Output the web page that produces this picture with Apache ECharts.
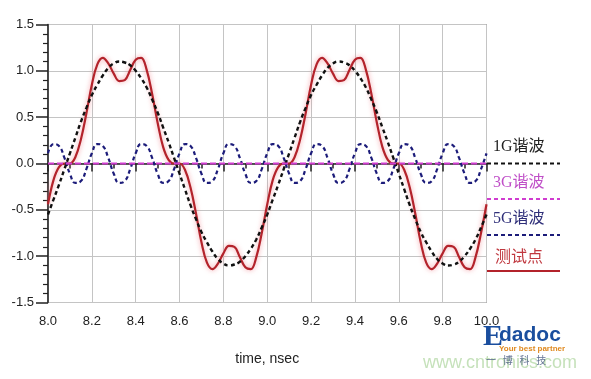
<!DOCTYPE html>
<html><head><meta charset="utf-8">
<script src="https://cdn.jsdelivr.net/npm/echarts@6/dist/echarts.min.js"></script>
<style>html,body{margin:0;padding:0;background:#fff}#c{width:591px;height:379px}</style>
</head><body><div id="c"></div>
<script>
const times = [8.000,8.025,8.050,8.075,8.100,8.125,8.150,8.175,8.200,8.225,8.250,8.275,8.300,8.325,8.350,8.375,8.400,8.425,8.450,8.475,
8.500,8.525,8.550,8.575,8.600,8.625,8.650,8.675,8.700,8.725,8.750,8.775,8.800,8.825,8.850,8.875,8.900,8.925,8.950,8.975,
9.000,9.025,9.050,9.075,9.100,9.125,9.150,9.175,9.200,9.225,9.250,9.275,9.300,9.325,9.350,9.375,9.400,9.425,9.450,9.475,
9.500,9.525,9.550,9.575,9.600,9.625,9.650,9.675,9.700,9.725,9.750,9.775,9.800,9.825,9.850,9.875,9.900,9.925,9.950,9.975,10.000];

const harm1G = [-0.55,-0.39,-0.23,-0.06,0.11,0.28,0.45,0.60,0.74,0.85,0.95,1.03,1.08,1.10,1.09,1.06,1.00,0.92,0.82,0.69,
0.55,0.39,0.23,0.06,-0.11,-0.28,-0.45,-0.60,-0.74,-0.85,-0.95,-1.03,-1.08,-1.10,-1.09,-1.06,-1.00,-0.92,-0.82,-0.69,
-0.55,-0.39,-0.23,-0.06,0.11,0.28,0.45,0.60,0.74,0.85,0.95,1.03,1.08,1.10,1.09,1.06,1.00,0.92,0.82,0.69,
0.55,0.39,0.23,0.06,-0.11,-0.28,-0.45,-0.60,-0.74,-0.85,-0.95,-1.03,-1.08,-1.10,-1.09,-1.06,-1.00,-0.92,-0.82,-0.69,-0.55];

const harm5G = [0.11,0.21,0.19,0.06,-0.11,-0.21,-0.19,-0.06,0.11,0.21,0.19,0.06,-0.11,-0.21,-0.19,-0.06,
0.11,0.21,0.19,0.06,-0.11,-0.21,-0.19,-0.06,0.11,0.21,0.19,0.06,-0.11,-0.21,-0.19,-0.06,
0.11,0.21,0.19,0.06,-0.11,-0.21,-0.19,-0.06,0.11,0.21,0.19,0.06,-0.11,-0.21,-0.19,-0.06,
0.11,0.21,0.19,0.06,-0.11,-0.21,-0.19,-0.06,0.11,0.21,0.19,0.06,-0.11,-0.21,-0.19,-0.06,
0.11,0.21,0.19,0.06,-0.11,-0.21,-0.19,-0.06,0.11,0.21,0.19,0.06,-0.11,-0.21,-0.19,-0.06,0.11];

const times3G = [8.0, 8.5, 9.0, 9.5, 10.0];
const harm3G = [0.0, 0.0, 0.0, 0.0, 0.0];

const testPoint = [-0.44,-0.18,-0.04,0.00,0.00,0.07,0.26,0.54,0.85,1.07,1.14,1.08,0.97,0.89,0.90,1.01,1.12,1.14,1.01,0.75,
0.44,0.18,0.04,0.00,0.00,-0.07,-0.26,-0.54,-0.85,-1.07,-1.14,-1.08,-0.97,-0.89,-0.90,-1.01,-1.12,-1.14,-1.01,-0.75,
-0.44,-0.18,-0.04,0.00,0.00,0.07,0.26,0.54,0.85,1.07,1.14,1.08,0.97,0.89,0.90,1.01,1.12,1.14,1.01,0.75,
0.44,0.18,0.04,0.00,0.00,-0.07,-0.26,-0.54,-0.85,-1.07,-1.14,-1.08,-0.97,-0.89,-0.90,-1.01,-1.12,-1.14,-1.01,-0.75,-0.44];

const seriesNames = ['1G谐波', '3G谐波', '5G谐波', '测试点'];
const xTickLabels = ['8.0','8.2','8.4','8.6','8.8','9.0','9.2','9.4','9.6','9.8','10.0'];
const yTickLabels = ['-1.5','-1.0','-0.5','0.0','0.5','1.0','1.5'];

const pair = (xs, ys) => xs.map((t, i) => [t, ys[i]]);
const chart = echarts.init(document.getElementById('c'), null, {renderer: 'canvas'});
const lf = 'Liberation Serif, "Noto Sans CJK SC", serif';
chart.setOption({
  animation: false,
  backgroundColor: '#fff',
  grid: {left: 48, top: 24.5, right: 104.5, bottom: 76.5, show: true, borderColor: '#555', borderWidth: 1},
  xAxis: {
    type: 'value', min: 8, max: 10, interval: 0.2,
    name: 'time, nsec', nameLocation: 'middle', nameGap: 50,
    nameTextStyle: {fontFamily: 'Liberation Sans, Arial', fontSize: 14, color: '#222'},
    axisLine: {lineStyle: {color: '#222', width: 1.5}},
    axisTick: {length: 8, lineStyle: {color: '#222', width: 1.5}},
    minorTick: {show: true, splitNumber: 2, length: 5, lineStyle: {color: '#222', width: 1.5}},
    splitLine: {show: true, lineStyle: {color: '#c4c4c4', width: 1}},
    axisLabel: {margin: 12, fontFamily: 'Liberation Sans, Arial', fontSize: 13, color: '#222',
      formatter: v => xTickLabels[Math.round((v - 8) / 0.2)]}
  },
  yAxis: {
    type: 'value', min: -1.5, max: 1.5, interval: 0.5,
    axisLine: {lineStyle: {color: '#222', width: 1.5}},
    axisTick: {length: 12, lineStyle: {color: '#222', width: 1.5}},
    minorTick: {show: true, splitNumber: 5, length: 5, lineStyle: {color: '#222', width: 1.2}},
    splitLine: {show: true, lineStyle: {color: '#c4c4c4', width: 1}},
    axisLabel: {margin: 14, fontFamily: 'Liberation Sans, Arial', fontSize: 13, color: '#222',
      formatter: v => yTickLabels[Math.round((v + 1.5) / 0.5)]}
  },
  series: [
    {name: seriesNames[3], type: 'line', smooth: 0.4, symbol: 'none', data: pair(times, testPoint),
     lineStyle: {color: '#b3232b', width: 2.2, shadowBlur: 5, shadowColor: 'rgba(240,120,130,0.75)'}},
    {name: seriesNames[2], type: 'line', smooth: 0.5, symbol: 'none', data: pair(times, harm5G),
     lineStyle: {color: '#1c1c7a', width: 2.2, type: [4, 3]}},
    {name: seriesNames[0], type: 'line', smooth: 0.5, symbol: 'none', data: pair(times, harm1G),
     lineStyle: {color: '#111', width: 2.4, type: [4, 3]}},
    {name: seriesNames[1], type: 'line', symbol: 'none', data: pair(times3G, harm3G),
     lineStyle: {color: '#d03cd0', width: 2, type: [6, 3]}}
  ],
  graphic: [
    {type: 'text', left: 493, top: 139, style: {text: seriesNames[0], font: '16px ' + lf, fill: '#222'}},
    {type: 'line', shape: {x1: 487, y1: 163.5, x2: 560, y2: 163.5}, style: {stroke: '#111', lineWidth: 2, lineDash: [4, 3]}},
    {type: 'text', left: 493, top: 175, style: {text: seriesNames[1], font: '16px ' + lf, fill: '#c050c8'}},
    {type: 'line', shape: {x1: 487, y1: 199, x2: 560, y2: 199}, style: {stroke: '#d03cd0', lineWidth: 2, lineDash: [4, 3]}},
    {type: 'text', left: 493, top: 211, style: {text: seriesNames[2], font: '16px ' + lf, fill: '#30307a'}},
    {type: 'line', shape: {x1: 487, y1: 235, x2: 560, y2: 235}, style: {stroke: '#1c1c7a', lineWidth: 2, lineDash: [4, 3]}},
    {type: 'text', left: 495, top: 250, style: {text: seriesNames[3], font: '16px ' + lf, fill: '#c0383f'}},
    {type: 'line', shape: {x1: 487, y1: 271, x2: 560, y2: 271}, style: {stroke: '#b3232b', lineWidth: 2}},
    {type: 'text', left: 423, top: 354, style: {text: 'www.cntronics.com', font: '18px Liberation Sans, Arial', fill: 'rgba(150,200,130,0.55)'}},
    {type: 'text', left: 483, top: 322, style: {text: 'E', font: 'bold 30px ' + lf, fill: '#1a4e9e'}},
    {type: 'text', left: 499, top: 325, style: {text: 'dadoc', font: 'bold 21px Liberation Sans, Arial', fill: '#1a4e9e'}},
    {type: 'text', left: 499, top: 345, style: {text: 'Your best partner', font: 'bold 8px Liberation Sans, Arial', fill: '#e08a20'}},
    {type: 'text', left: 486, top: 355, style: {text: '一   博   科   技', font: '10px "Noto Sans CJK SC"', fill: 'rgba(60,80,120,0.8)'}}
  ]
});
</script></body></html>
